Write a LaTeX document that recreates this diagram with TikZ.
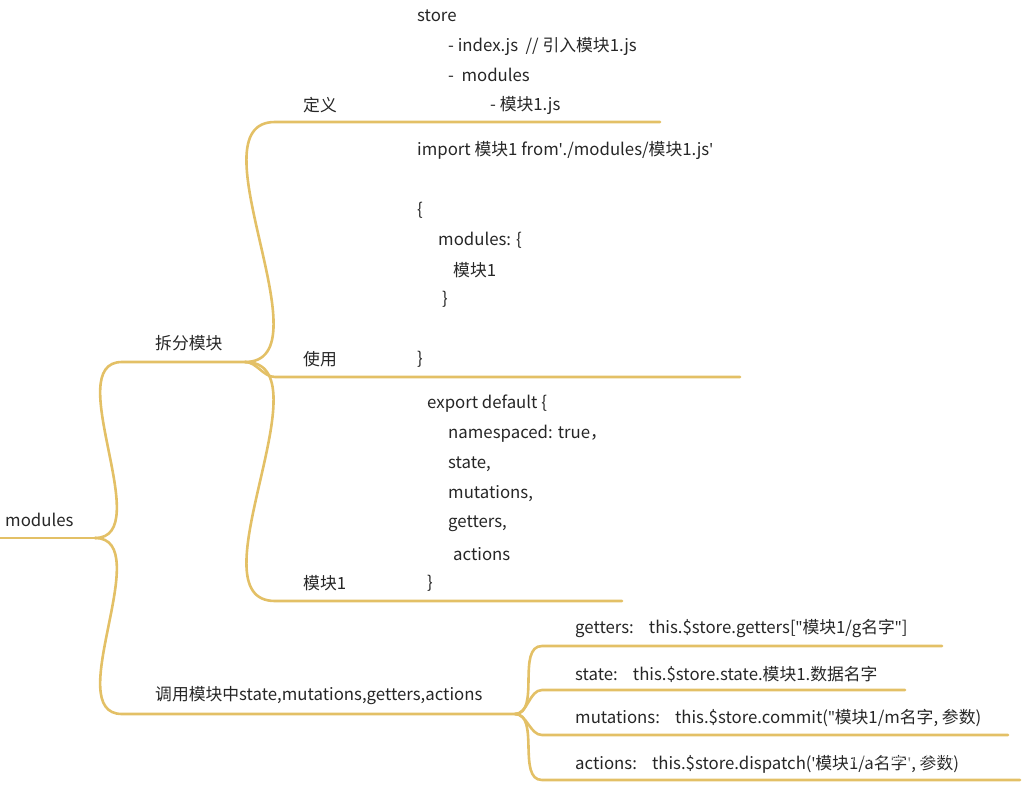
\documentclass[tikz,border=0pt]{standalone}
\usepackage{fontspec}
\setmainfont[Ligatures=NoCommon]{Noto Sans CJK SC}
\newfontfamily\qfont{Noto Sans}
\newcommand{\sq}{{\qfont\char"27}}
\newcommand{\dq}{{\qfont\char"22}}
\begin{document}
\begin{tikzpicture}[x=1pt,y=-1pt,
  br/.style={draw=gold,line width=2.6pt,line cap=round},
  tx/.style={anchor=west,inner sep=0pt,font=\fontsize{16.8}{18}\selectfont,text=black!85}]
\definecolor{gold}{HTML}{E3C066}
\useasboundingbox (0,0) rectangle (1036,792);
\coordinate (r0) at (0,538); \coordinate (r1) at (95,538);
\coordinate (a0) at (122,362); \coordinate (a1) at (245,362);
\coordinate (b0) at (122,714); \coordinate (b1) at (515,714);
\coordinate (d0) at (275,122); \coordinate (d1) at (660,122);
\coordinate (u0) at (275,377); \coordinate (u1) at (740,377);
\coordinate (m0) at (275,601); \coordinate (m1) at (622,601);
\coordinate (g0) at (542,646); \coordinate (g1) at (942,646);
\coordinate (s0) at (542,690); \coordinate (s1) at (905,690);
\coordinate (t0) at (542,735); \coordinate (t1) at (1008,735);
\coordinate (c0) at (542,780); \coordinate (c1) at (1020,780);
\draw[br] (r0)--(r1);
\draw[br] (r1) to[out=0,in=180,looseness=0.9] (a0) -- (a1);
\draw[br] (r1) to[out=0,in=180,looseness=0.9] (b0) -- (b1);
\draw[br] (a1) to[out=0,in=180,looseness=0.9] (d0) -- (d1);
\draw[br] (a1) to[out=0,in=180,looseness=0.9] (u0) -- (u1);
\draw[br] (a1) to[out=0,in=180,looseness=0.9] (m0) -- (m1);
\draw[br] (b1) to[out=0,in=180,looseness=0.9] (g0) -- (g1);
\draw[br] (b1) to[out=0,in=180,looseness=0.9] (s0) -- (s1);
\draw[br] (b1) to[out=0,in=180,looseness=0.9] (t0) -- (t1);
\draw[br] (b1) to[out=0,in=180,looseness=0.9] (c0) -- (c1);
\node[tx] (nroot) at (5,520) {modules};
\node[tx] (na) at (155,343) {拆分模块};
\node[tx] (nb) at (155,696) {调用模块中state,mutations,getters,actions};
\node[tx] (nd) at (303,105) {定义};
\node[tx] (nu) at (303,359) {使用};
\node[tx] (nm) at (303,583) {模块1};
\node[tx] (l1) at (417,16) {store};
\node[tx] (l2) at (448,46) {- index.js\ \ // 引入模块1.js};
\node[tx] (l3) at (448,75) {-\ \ modules};
\node[tx] (l4) at (490,105) {- 模块1.js};
\node[tx] (l5) at (417,150) {import 模块1 from\sq./modules/模块1.js\sq};
\node[tx] (l6) at (417,210) {\{};
\node[tx] (l7) at (438,240) {modules: \{};
\node[tx] (l8) at (453,270) {模块1};
\node[tx] (l9) at (442,299) {\}};
\node[tx] (l10) at (417,359) {\}};
\node[tx] (e1) at (427,404) {export default \{};
\node[tx] (e2) at (448,434) {namespaced: true，};
\node[tx] (e3) at (448,464) {state,};
\node[tx] (e4) at (448,494) {mutations,};
\node[tx] (e5) at (448,524) {getters,};
\node[tx] (e6) at (453,554) {actions};
\node[tx] (e7) at (427,583) {\}};
\node[tx] (ng) at (575,628) {getters:\ \ \ \ this.\$store.getters[\dq 模块1/g名字\dq]};
\node[tx] (ns) at (575,674) {state:\ \ \ \ this.\$store.state.模块1.数据名字};
\node[tx] (nt) at (575,718) {mutations:\ \ \ \ this.\$store.commit(\dq 模块1/m名字, 参数)};
\node[tx] (nc) at (575,764) {actions:\ \ \ \ this.\$store.dispatch(\sq 模块1/a名字\sq, 参数)};
\node[tx,text=white,font=\fontsize{13}{15}\selectfont,opacity=0.8] (wm) at (852,757) {@稀土掘金技术社区};
\end{tikzpicture}
\end{document}
